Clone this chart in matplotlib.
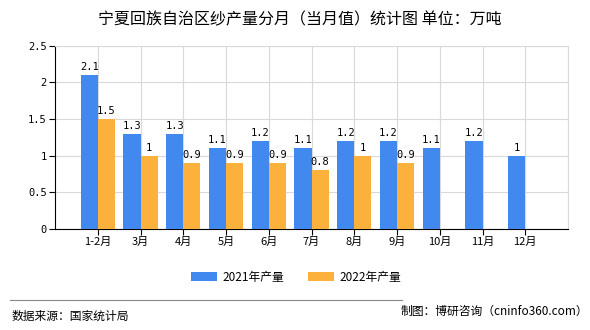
import matplotlib
matplotlib.use("Agg")
from matplotlib import pyplot as plt
import numpy as np

plt.rcParams['font.family'] = ['Noto Sans CJK SC', 'DejaVu Sans']

months = ["1-2月", "3月", "4月", "5月", "6月", "7月", "8月", "9月", "10月", "11月", "12月"]
output_2021 = [2.1, 1.3, 1.3, 1.1, 1.2, 1.1, 1.2, 1.2, 1.1, 1.2, 1.0]
output_2022 = [1.5, 1.0, 0.9, 0.9, 0.9, 0.8, 1.0, 0.9]
yticks = [0, 0.5, 1, 1.5, 2, 2.5]
ytick_labels = ["0", "0.5", "1", "1.5", "2", "2.5"]

blue = '#4189EE'
orange = '#FBB13C'
grid_color = '#d9d9d9'

fig = plt.figure(figsize=(5.9, 3.3), dpi=100)
ax = fig.add_axes([55 / 590, 1 - 229 / 330, 513 / 590, 183.3 / 330])

x = np.arange(len(months))
w = 0.4
b1 = ax.bar(x[:len(output_2021)] - w / 2, output_2021, w, color=blue, label="2021年产量", zorder=3)
b2 = ax.bar(x[:len(output_2022)] + w / 2, output_2022, w, color=orange, label="2022年产量", zorder=3)

mono = ['DejaVu Sans Mono']
for rect, v in zip(b1, output_2021):
    ax.text(rect.get_x() + rect.get_width() / 2, v + 0.04, f"{v:g}",
            ha='center', va='bottom', fontsize=7.5, family=mono, zorder=4)
for rect, v in zip(b2, output_2022):
    ax.text(rect.get_x() + rect.get_width() / 2, v + 0.04, f"{v:g}",
            ha='center', va='bottom', fontsize=7.5, family=mono, zorder=4)

ax.set_xlim(-1, 11)
ax.set_ylim(0, 2.5)
ax.set_xticks(x)
ax.set_xticklabels(months, fontsize=8)
ax.set_yticks(yticks)
ax.set_yticklabels(ytick_labels, fontsize=7.5, family=mono)

# grid at category centres and value ticks, plus right edge
ax.grid(True, color=grid_color, linewidth=0.8, zorder=0)
ax.axvline(11, color=grid_color, linewidth=0.8, zorder=0)

for s in ['top', 'right']:
    ax.spines[s].set_color(grid_color)
    ax.spines[s].set_linewidth(0.8)
ax.spines['left'].set_color('black')
ax.spines['bottom'].set_color('black')
ax.tick_params(axis='both', length=4, width=0.8, color='black', pad=2)

fig.text(300 / 590, 1 - 20 / 330, "宁夏回族自治区纱产量分月（当月值）统计图 单位：万吨",
         ha='center', va='center', fontsize=11.5)

fig.legend(handles=[b1, b2], loc='center', bbox_to_anchor=(296 / 590, 1 - 277 / 330),
           ncol=2, frameon=False, fontsize=8.5, handlelength=2.2, handleheight=0.9,
           columnspacing=2.0, handletextpad=0.5)

fig.add_artist(plt.Line2D([10 / 590, 402 / 590], [1 - 300 / 330, 1 - 300 / 330],
                          color='#888888', linewidth=0.8))
fig.text(12 / 590, 1 - 316 / 330, "数据来源：国家统计局", ha='left', va='center', fontsize=8.5)
fig.text(588 / 590, 1 - 311 / 330, "制图：博研咨询（cninfo360.com）", ha='right', va='center', fontsize=8.5)

fig.savefig("out.png", dpi=100)
